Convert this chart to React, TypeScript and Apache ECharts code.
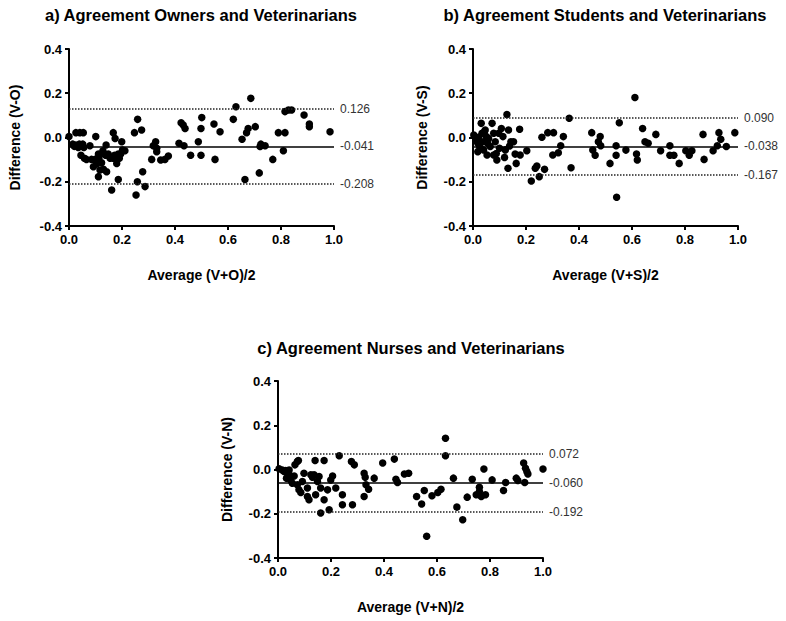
import React, { useEffect, useRef } from "react";
import * as echarts from "echarts";

const FONT = "'Liberation Sans', Arial, Helvetica, sans-serif";

const panelTitles = [
  "a) Agreement Owners and Veterinarians",
  "b) Agreement Students and Veterinarians",
  "c) Agreement Nurses and Veterinarians",
];
const xNames = ["Average (V+O)/2", "Average (V+S)/2", "Average (V+N)/2"];
const yNames = ["Difference (V-O)", "Difference (V-S)", "Difference (V-N)"];
const meanDiff = [-0.041, -0.038, -0.06];
const upperLoA = [0.126, 0.09, 0.072];
const lowerLoA = [-0.208, -0.167, -0.192];

// a) Owners vs Veterinarians
const ownersAvg = [
  0.0, 0.014, 0.02, 0.026, 0.026, 0.035, 0.041, 0.039, 0.045, 0.052, 0.054, 0.056, 0.058, 0.066,
  0.079, 0.085, 0.101, 0.098, 0.092, 0.104, 0.111, 0.113, 0.117, 0.111, 0.123, 0.128, 0.13, 0.13,
  0.14, 0.138, 0.142, 0.148, 0.155, 0.161, 0.167, 0.167, 0.172, 0.174, 0.18, 0.186, 0.186, 0.19,
  0.195, 0.199, 0.202, 0.211, 0.247, 0.259, 0.253, 0.258, 0.274, 0.278, 0.287, 0.312, 0.318, 0.327,
  0.331, 0.331, 0.346, 0.362, 0.375, 0.415, 0.423, 0.431, 0.438, 0.434, 0.459, 0.488, 0.498, 0.501,
  0.498, 0.547, 0.551, 0.57, 0.62, 0.63, 0.653, 0.664, 0.67, 0.676, 0.686, 0.703, 0.718, 0.721,
  0.724, 0.74, 0.769, 0.79, 0.809, 0.815, 0.815, 0.828, 0.84, 0.887, 0.907, 0.907, 0.985,
];
const ownersDiff = [
  0.004, -0.03, -0.04, 0.022, -0.034, -0.045, 0.022, -0.03, -0.08, -0.03, 0.022, -0.045, -0.094, -0.099,
  -0.037, -0.099, 0.004, -0.099, -0.132, -0.12, -0.075, -0.095, -0.147, -0.177, -0.114, -0.06, -0.072, -0.144,
  -0.034, -0.08, -0.155, -0.075, -0.094, -0.237, 0.022, -0.094, -0.08, -0.004, -0.117, -0.19, -0.075, -0.094,
  -0.075, -0.019, -0.057, -0.06, 0.022, 0.082, -0.26, -0.2, 0.034, -0.155, -0.222, -0.099, -0.037, -0.019,
  -0.049, -0.064, -0.102, -0.099, -0.084, -0.026, 0.067, 0.056, 0.041, -0.037, -0.08, -0.019, 0.041, 0.09,
  -0.08, 0.061, -0.099, 0.026, 0.082, 0.139, -0.008, -0.19, 0.022, 0.041, 0.177, 0.049, -0.16, -0.041,
  -0.03, -0.037, -0.099, 0.022, -0.06, 0.022, 0.117, 0.124, 0.124, 0.102, 0.061, 0.049, 0.026,
];

// b) Students vs Veterinarians
const studentsAvg = [
  0.009, 0.003, 0.013, 0.018, 0.021, 0.025, 0.031, 0.034, 0.038, 0.04, 0.043, 0.046, 0.05, 0.053,
  0.055, 0.059, 0.072, 0.078, 0.078, 0.084, 0.09, 0.097, 0.1, 0.107, 0.113, 0.119, 0.122, 0.128,
  0.134, 0.132, 0.138, 0.143, 0.153, 0.159, 0.163, 0.176, 0.178, 0.203, 0.22, 0.235, 0.241, 0.25,
  0.27, 0.26, 0.282, 0.304, 0.301, 0.322, 0.331, 0.341, 0.363, 0.37, 0.018, 0.065, 0.088,
  0.448, 0.452, 0.461, 0.473, 0.48, 0.482, 0.517, 0.54, 0.54, 0.552, 0.542, 0.577, 0.611, 0.617,
  0.62, 0.64, 0.649, 0.661, 0.69, 0.708, 0.743, 0.743, 0.758, 0.778, 0.803, 0.816, 0.826, 0.868,
  0.872, 0.906, 0.922, 0.928, 0.935, 0.956, 0.988,
];
const studentsDiff = [
  0.001, 0.011, -0.011, -0.026, 0.001, -0.041, 0.064, 0.019, -0.019, -0.056, 0.026, 0.034, 0.004, -0.079,
  -0.026, -0.004, 0.064, -0.079, 0.019, -0.019, -0.102, 0.019, -0.049, 0.041, 0.004, -0.09, -0.056, 0.104,
  0.034, -0.139, -0.038, -0.019, -0.019, -0.075, -0.117, 0.037, -0.079, -0.06, -0.197, -0.139, -0.129, -0.177,
  -0.144, 0.001, 0.022, 0.022, -0.079, -0.069, -0.037, 0.004, 0.087, -0.137, -0.064, -0.041, -0.072,
  0.022, -0.057, -0.08, -0.019, 0.004, -0.037, -0.117, -0.037, -0.08, 0.067, -0.27, -0.057, 0.181, -0.075,
  -0.102, 0.041, -0.019, -0.026, 0.014, -0.06, -0.037, -0.08, -0.08, -0.117, -0.06, -0.08, -0.06, 0.014,
  -0.099, -0.06, -0.037, 0.022, -0.008, -0.041, 0.022,
];

// c) Nurses vs Veterinarians
const nursesAvg = [
  0.004, 0.016, 0.023, 0.029, 0.035, 0.032, 0.042, 0.042, 0.048, 0.054, 0.061, 0.064, 0.073, 0.077,
  0.073, 0.079, 0.086, 0.092, 0.098, 0.111, 0.111, 0.117, 0.124, 0.13, 0.136, 0.14, 0.142, 0.149,
  0.155, 0.161, 0.161, 0.174, 0.174, 0.187, 0.193, 0.199, 0.206, 0.218, 0.231, 0.243, 0.243, 0.277,
  0.288, 0.281, 0.325, 0.329, 0.325, 0.332, 0.342, 0.363, 0.395, 0.439, 0.445, 0.451, 0.477, 0.493,
  0.523, 0.542, 0.552, 0.561, 0.581, 0.603, 0.615, 0.632, 0.632, 0.662, 0.675, 0.697, 0.714, 0.733,
  0.748, 0.76, 0.76, 0.767, 0.777, 0.783, 0.808, 0.851, 0.859, 0.899, 0.905, 0.927, 0.934, 0.939,
  0.943, 0.931, 1.0,
];
const nursesDiff = [
  0.003, -0.002, -0.009, -0.005, -0.017, -0.039, -0.002, -0.024, -0.047, -0.062, -0.029, 0.021, 0.036, 0.041,
  -0.069, -0.092, -0.104, -0.054, -0.017, -0.084, -0.122, -0.137, -0.024, -0.035, -0.024, 0.041, -0.114, -0.054,
  -0.032, -0.084, -0.197, 0.041, -0.137, -0.092, -0.182, -0.047, -0.029, -0.084, 0.062, -0.114, -0.159, 0.036,
  0.021, -0.159, -0.017, -0.035, -0.122, -0.069, -0.089, -0.039, 0.029, 0.047, -0.044, -0.059, -0.02, -0.017,
  -0.122, -0.156, -0.095, -0.302, -0.119, -0.104, -0.089, 0.141, 0.062, -0.039, -0.17, -0.227, -0.125, -0.044,
  -0.114, -0.099, -0.08, -0.122, 0.002, -0.114, -0.047, -0.095, -0.059, -0.039, -0.05, 0.029, 0.006, -0.009,
  -0.02, -0.059, 0.002,
];

const avgs = [ownersAvg, studentsAvg, nursesAvg];
const diffs = [ownersDiff, studentsDiff, nursesDiff];

const grids = [
  { left: 69, top: 49, width: 265, height: 177 },
  { left: 473, top: 49, width: 265, height: 177 },
  { left: 278, top: 381, width: 265, height: 177 },
];
const titlePos = [
  [201, 15],
  [605, 15],
  [411, 348],
];
const yNameGaps = [47, 44, 44];

function buildOption() {
  const xAxis: any[] = [];
  const yAxis: any[] = [];
  const series: any[] = [];
  const graphic: any[] = [];
  for (let i = 0; i < 3; i++) {
    xAxis.push({
      gridIndex: i,
      type: "value",
      min: 0,
      max: 1,
      interval: 0.2,
      name: xNames[i],
      nameLocation: "middle",
      nameGap: 42,
      nameTextStyle: { fontFamily: FONT, fontWeight: "bold", fontSize: 14, color: "#000" },
      axisLine: { show: true, onZero: false, lineStyle: { color: "#000", width: 2 } },
      axisTick: { show: true, length: 4, lineStyle: { color: "#000", width: 2 } },
      axisLabel: {
        formatter: (v: number) => v.toFixed(1),
        fontFamily: FONT,
        fontWeight: "bold",
        fontSize: 13,
        color: "#000",
        margin: 7,
      },
      splitLine: { show: false },
    });
    yAxis.push({
      gridIndex: i,
      type: "value",
      min: -0.4,
      max: 0.4,
      interval: 0.2,
      name: yNames[i],
      nameLocation: "middle",
      nameGap: yNameGaps[i],
      nameTextStyle: { fontFamily: FONT, fontWeight: "bold", fontSize: 14, color: "#000" },
      axisLine: { show: true, onZero: false, lineStyle: { color: "#000", width: 2 } },
      axisTick: { show: true, length: 4, lineStyle: { color: "#000", width: 2 } },
      axisLabel: {
        formatter: (v: number) => (Math.abs(v) < 1e-9 ? "0.0" : v.toFixed(1)),
        fontFamily: FONT,
        fontWeight: "bold",
        fontSize: 13,
        color: "#000",
        margin: 7,
      },
      splitLine: { show: false },
    });
    const lbl = (v: number) => ({
      show: true,
      position: "end",
      distance: 6,
      formatter: v.toFixed(3),
      fontFamily: FONT,
      fontSize: 12,
      color: "#333",
    });
    series.push({
      type: "scatter",
      xAxisIndex: i,
      yAxisIndex: i,
      symbolSize: 7.5,
      itemStyle: { color: "#000", opacity: 1 },
      data: avgs[i].map((x, k) => [x, diffs[i][k]]),
      markLine: {
        silent: true,
        symbol: ["none", "none"],
        animation: false,
        data: [
          { yAxis: upperLoA[i], lineStyle: { color: "#222", width: 1.5, type: "dotted" }, label: lbl(upperLoA[i]) },
          { yAxis: meanDiff[i], lineStyle: { color: "#000", width: 1.5, type: "solid" }, label: lbl(meanDiff[i]) },
          { yAxis: lowerLoA[i], lineStyle: { color: "#222", width: 1.5, type: "dotted" }, label: lbl(lowerLoA[i]) },
        ],
      },
    });
    graphic.push({
      type: "text",
      x: titlePos[i][0],
      y: titlePos[i][1],
      style: {
        text: panelTitles[i],
        align: "center",
        verticalAlign: "middle",
        fontFamily: FONT,
        fontWeight: "bold",
        fontSize: 16.5,
        fill: "#000",
      },
    });
  }
  return {
    animation: false,
    backgroundColor: "#fff",
    grid: grids.map((g) => ({ ...g, containLabel: false })),
    xAxis,
    yAxis,
    series,
    graphic,
  };
}

export default function App() {
  const ref = useRef<HTMLDivElement>(null);
  useEffect(() => {
    if (!ref.current) return;
    const chart = echarts.init(ref.current, undefined, { renderer: "svg" });
    chart.setOption(buildOption() as any);
    return () => chart.dispose();
  }, []);
  return (
    <div
      ref={ref}
      style={{ position: "absolute", left: 0, top: 0, width: 786, height: 621, background: "#fff" }}
    />
  );
}
